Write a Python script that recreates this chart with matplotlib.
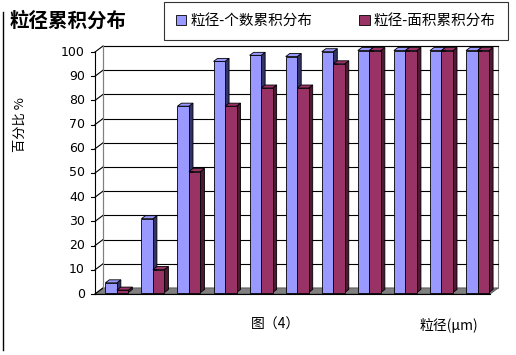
import matplotlib.pyplot as plt
from matplotlib.patches import Rectangle, Polygon, Patch
from matplotlib.lines import Line2D

plt.rcParams['font.family'] = ['Noto Sans CJK SC', 'DejaVu Sans']

# data
categories = list(range(11))
count_cum = [4, 30.5, 77, 95.5, 98, 97.5, 99.5, 100, 100, 100, 100]
area_cum = [1, 9.5, 50, 77, 84.5, 84.5, 94.5, 100, 100, 100, 100]
yticks = [0, 10, 20, 30, 40, 50, 60, 70, 80, 90, 100]

blue, blue_side = '#9999ff', '#333366'
red, red_side = '#993366', '#4d1933'

fig = plt.figure(figsize=(5.16, 3.55), dpi=100)
W, H = 516, 355
# front plane of the pseudo 3D box, in pixels
fx0, fx1, fy0, fy1 = 95, 490, 294, 52
ax = fig.add_axes([fx0 / W, 1 - fy0 / H, (fx1 - fx0) / W, (fy0 - fy1) / H])
xmin, xmax = -0.55, 10.4
ax.set_xlim(xmin, xmax)
ax.set_ylim(0, 100)
ax.axis('off')

pxx = (fx1 - fx0) / (xmax - xmin)  # px per x unit
pxy = (fy0 - fy1) / 100.0           # px per y unit

def dx(p):
    return p / pxx

def dy(p):
    return p / pxy

# walls
wx, wy = dx(8), dy(6)
floor = Polygon([(xmin, 0), (xmax, 0), (xmax + wx, wy), (xmin + wx, wy)],
                closed=True, fc='#808080', ec='#606060', lw=0.8, clip_on=False, zorder=1)
ax.add_patch(floor)
back = Rectangle((xmin + wx, wy), xmax - xmin, 100, fc='white', ec='#808080',
                 lw=0.8, clip_on=False, zorder=0)
ax.add_patch(back)
for v in yticks[1:]:
    ax.plot([xmin + wx, xmax + wx], [v + wy, v + wy], color='black', lw=0.8,
            clip_on=False, zorder=1)
for v in yticks:
    ax.plot([xmin, xmin + wx], [v, v + wy], color='black', lw=0.8, clip_on=False, zorder=1)
    ax.plot([xmin - dx(4), xmin], [v, v], color='black', lw=0.8, clip_on=False, zorder=1)
    ax.text(xmin - dx(10), v, str(v), ha='right', va='center', fontsize=9,
            family='DejaVu Sans')
ax.plot([xmin, xmin], [0, 100], color='black', lw=0.8, clip_on=False, zorder=1)
ax.plot([xmin + wx, xmin + wx], [wy, 100 + wy], color='#808080', lw=0.8, clip_on=False, zorder=1)
ax.plot([xmin, xmax], [0, 0], color='black', lw=0.8, clip_on=False, zorder=6)

# bars
bw = dx(11.5)
bx, by = dx(2), dy(1.5)
ddx, ddy = dx(4), dy(3)

def bar3d(x, h, fc, sc, z):
    x0, y0 = x + bx, by
    side = Polygon([(x0 + bw, y0), (x0 + bw + ddx, y0 + ddy),
                    (x0 + bw + ddx, y0 + h + ddy), (x0 + bw, y0 + h)],
                   closed=True, fc=sc, ec='black', lw=0.6, clip_on=False, zorder=z)
    top = Polygon([(x0, y0 + h), (x0 + bw, y0 + h), (x0 + bw + ddx, y0 + h + ddy),
                   (x0 + ddx, y0 + h + ddy)],
                  closed=True, fc=fc, ec='black', lw=0.6, clip_on=False, zorder=z)
    front = Rectangle((x0, y0), bw, h, fc=fc, ec='black', lw=0.6, clip_on=False, zorder=z)
    ax.add_patch(side)
    ax.add_patch(top)
    ax.add_patch(front)

for i, c in enumerate(categories):
    bar3d(c - bw, count_cum[i], blue, blue_side, 3 + i * 0.01)
    bar3d(c, area_cum[i], red, red_side, 4 + i * 0.01)

# texts
fig.text(10 / W, 1 - 21 / H, '粒径累积分布', fontsize=14, fontweight='bold',
         ha='left', va='center')
fig.text(20 / W, 1 - 125 / H, '百分比 %', fontsize=9.5, rotation=90,
         ha='center', va='center')
fig.text(275 / W, 1 - 325 / H, '图（4）', fontsize=10, ha='center', va='center')
fig.text(449 / W, 1 - 325 / H, '粒径(μm)', fontsize=10, ha='center', va='center')

handles = [Patch(fc=blue, ec='black', lw=0.6), Patch(fc=red, ec='black', lw=0.6)]
leg = fig.legend(handles, ['粒径-个数累积分布', '粒径-面积累积分布'], ncol=2,
                 loc='center', bbox_to_anchor=(336 / W, 1 - 21 / H), fontsize=10.5,
                 frameon=True, fancybox=False, edgecolor='black', handlelength=0.7,
                 handleheight=0.7, handletextpad=0.3, columnspacing=3.2, borderpad=0.8,
                 borderaxespad=0)
leg.get_frame().set_linewidth(0.8)

# left border line of the picture
fig.add_artist(Line2D([2.5 / W, 2.5 / W], [1 - 350 / H, 1 - 12 / H], color='black', lw=1))

fig.savefig('out.png', dpi=100)
